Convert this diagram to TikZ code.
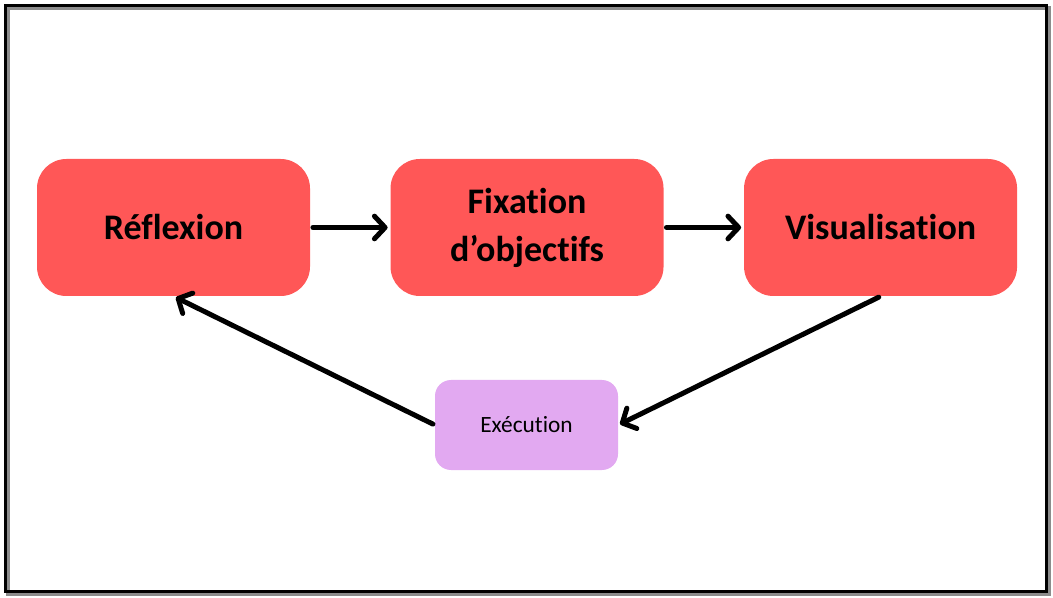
\documentclass[tikz,border=0pt]{standalone}
\usepackage{fontspec}
\setmainfont{Carlito}[Ligatures=NoCommon]
\usepackage{tikz}
\usetikzlibrary{arrows.meta,positioning}
\definecolor{StepRed}{HTML}{FF5757}
\definecolor{StepLilac}{HTML}{E2A9F1}
\definecolor{FrameShadow}{gray}{0.55}
\tikzset{
    stepbox/.style={fill=StepRed,rounded corners=22pt,minimum width=204.75pt,minimum height=102.75pt,
        align=center,font=\fontsize{27}{36}\selectfont\bfseries,inner sep=0pt},
    execbox/.style={fill=StepLilac,rounded corners=12pt,minimum width=137.25pt,minimum height=67.5pt,
        align=center,font=\fontsize{17.5}{20}\selectfont,inner sep=0pt},
    flow/.style={line width=3.75pt,line cap=round,line join=round,
        -{Straight Barb[length=8pt,width=17pt,line width=3.75pt,round]}},
}
\begin{document}
\begin{tikzpicture}[x=0.75pt,y=-0.75pt]
    \useasboundingbox (0,0) rectangle (1053,598);    % Freeze the bounding box
    % --- --- --- Frame
    \draw[FrameShadow,line width=2.5pt] (8,8) rectangle (1049,594);
    \draw[black,line width=2.25pt] (5.5,5.5) rectangle (1046.5,591.5);
    % --- --- --- Steps
    \node[stepbox] (refl) at (173.5,227.5) {Réflexion};
    \node[stepbox,right=60pt of refl] (fix) {Fixation\\d’objectifs};
    \node[stepbox,right=60pt of fix] (visu) {Visualisation};
    \node[execbox] (exec) at (526.5,425) {Exécution};
    % --- --- --- Arrows
    \draw[flow,shorten <=2pt,shorten >=2pt] (refl) -- (fix);
    \draw[flow,shorten <=2pt,shorten >=2pt] (fix) -- (visu);
    \draw[flow,shorten <=1.5pt,shorten >=1.5pt] (visu.south) -- (exec.east);
    \draw[flow,shorten <=1.5pt,shorten >=2pt] (exec.west) -- (refl.south);
\end{tikzpicture}
\end{document}
